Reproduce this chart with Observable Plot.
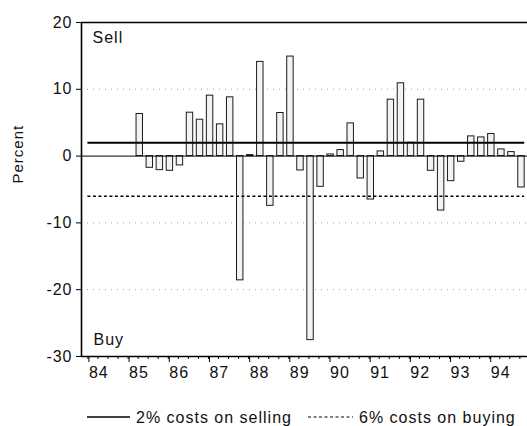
<!DOCTYPE html>
<html>
<head>
<meta charset="utf-8">
<script src="https://cdn.jsdelivr.net/npm/d3@7"></script>
<script src="https://cdn.jsdelivr.net/npm/@observablehq/plot@0.6"></script>
<style>
  html, body { margin: 0; padding: 0; background: #fff; }
  #chart svg { display: block; }
  #legend { display: block; }
</style>
</head>
<body>
<div id="chart"></div>
<svg id="legend" width="527" height="34"></svg>
<script>
// ---- data (quarterly, percent) ----
const periods = [
  "85Q2","85Q3","85Q4",
  "86Q1","86Q2","86Q3","86Q4",
  "87Q1","87Q2","87Q3","87Q4",
  "88Q1","88Q2","88Q3","88Q4",
  "89Q1","89Q2","89Q3","89Q4",
  "90Q1","90Q2","90Q3","90Q4",
  "91Q1","91Q2","91Q3","91Q4",
  "92Q1","92Q2","92Q3","92Q4",
  "93Q1","93Q2","93Q3","93Q4",
  "94Q1","94Q2","94Q3","94Q4"
];
const values = [
  6.3, -1.75, -2.1,
  -2.2, -1.4, 6.5, 5.45,
  9.05, 4.75, 8.8, -18.6,
  0.15, 14.1, -7.45, 6.45,
  14.9, -2.15, -27.55, -4.6,
  0.25, 0.9, 4.9, -3.35,
  -6.5, 0.7, 8.45, 10.9,
  2.0, 8.45, -2.2, -8.15,
  -3.75, -0.85, 2.95, 2.8,
  3.3, 1.0, 0.6, -4.7
];
const costLabels = ["2% costs on selling", "6% costs on buying"];
const costLevels = [2, -6];
const yearTicks = [1984,1985,1986,1987,1988,1989,1990,1991,1992,1993,1994];
const yTicks = [20, 10, 0, -10, -20, -30];
const gridLevels = [10, -10, -20];
const yDomain = [-30, 20];
const xDomain = [1983.84, 1994.94];
const sampleStart = 1984;
const regionLabels = ["Sell", "Buy"];
const yLabel = "Percent";

// ---- helpers ----
const obsOffset = 0.04;
const barHalf = 0.08;
const tq = p => 1900 + (+p.slice(0, 2)) + (+p[3] - 1) / 4 + obsOffset;
const bars = periods.map((p, i) => ({ t: tq(p), v: values[i] }));
const lineEnd = tq(periods[periods.length - 1]) + barHalf;
const quarterTicks = d3.range(xDomain[0] * 4 | 0, 1995 * 4 + 1)
  .map(q => q / 4).filter(q => q >= xDomain[0] && q <= xDomain[1]);

const font = "'Liberation Sans', Arial, Helvetica, sans-serif";

const chart = Plot.plot({
  width: 527,
  height: 392,
  marginLeft: 81,
  marginRight: 0,
  marginTop: 22,
  marginBottom: 36,
  style: { fontFamily: font, fontSize: "16px", letterSpacing: "1px", color: "#111", background: "#fff" },
  x: { type: "linear", domain: xDomain },
  y: { domain: yDomain },
  marks: [
    Plot.ruleY(gridLevels, { stroke: "#777", strokeWidth: 1, strokeDasharray: "1,5", strokeOpacity: 0.7 }),
    Plot.rectY(bars, {
      x1: d => d.t - barHalf, x2: d => d.t + barHalf, y1: 0, y2: "v",
      fill: "#f3f3f3", stroke: "#1a1a1a", strokeWidth: 1, insetLeft: 0, insetRight: 0
    }),
    Plot.ruleY([0], { stroke: "#000", strokeWidth: 1 }),
    Plot.ruleY([costLevels[0]], { x1: sampleStart, x2: lineEnd, stroke: "#000", strokeWidth: 2 }),
    Plot.ruleY([costLevels[1]], { x1: sampleStart, x2: lineEnd, stroke: "#000", strokeWidth: 1.4, strokeDasharray: "3,2.5" }),
    Plot.ruleY(yDomain, { stroke: "#000", strokeWidth: 1.5 }),
    Plot.ruleX([xDomain[0]], { stroke: "#000", strokeWidth: 1.6 }),
    Plot.axisY({ ticks: yTicks, tickSize: 5, tickPadding: 4, label: null, tickFormat: d => String(d), stroke: "#000" }),
    Plot.axisX({ ticks: quarterTicks, tickSize: 3, tickFormat: null, label: null, text: null, stroke: "#000" }),
    Plot.axisX({ ticks: yearTicks, tickSize: 6, tickPadding: 4, label: null, tickFormat: d => String(d).slice(2), textAnchor: "start", dx: 1, stroke: "#000" }),
    Plot.text([regionLabels[0]], { frameAnchor: "top-left", dx: 11, dy: 9, fontSize: 16 }),
    Plot.text([regionLabels[1]], { frameAnchor: "bottom-left", dx: 12, dy: -12, fontSize: 16 }),
    Plot.text([yLabel], { frameAnchor: "left", rotate: -90, dx: -63, dy: -6, fontSize: 15 })
  ]
});
document.getElementById("chart").appendChild(chart);

// ---- legend below the chart ----
const leg = d3.select("#legend")
  .style("font-family", font).style("font-size", "16px").style("letter-spacing", "1px");
const entries = [
  { x: 87, w: 43, dash: null, sw: 1.5, label: costLabels[0] },
  { x: 308, w: 45, dash: "3,2.5", sw: 1.2, label: costLabels[1] }
];
entries.forEach(e => {
  leg.append("line").attr("x1", e.x).attr("x2", e.x + e.w).attr("y1", 25).attr("y2", 25)
    .attr("stroke", "#000").attr("stroke-width", e.sw).attr("stroke-dasharray", e.dash);
  leg.append("text").attr("x", e.x + e.w + 6).attr("y", 31).attr("fill", "#111").text(e.label);
});
</script>
</body>
</html>
